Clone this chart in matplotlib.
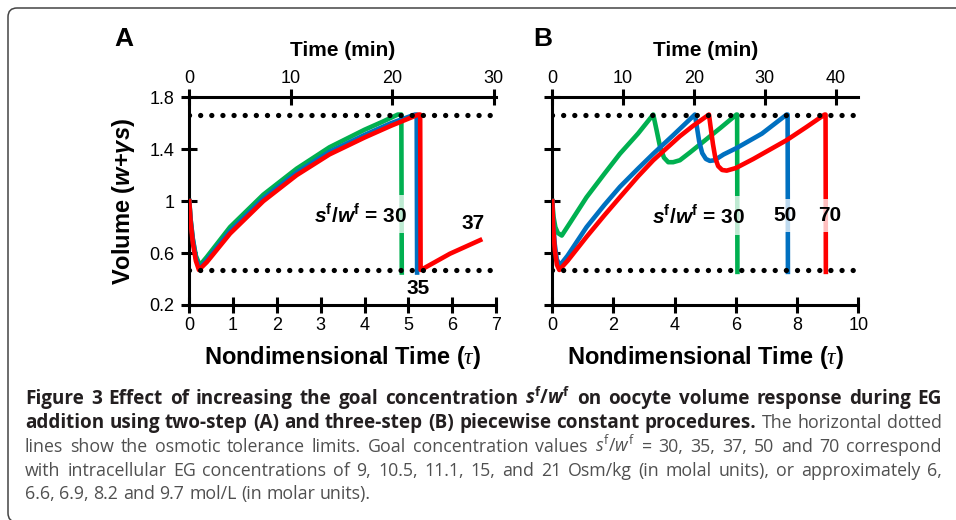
import matplotlib.pyplot as plt
from matplotlib.patches import FancyBboxPatch
from matplotlib.transforms import IdentityTransform

plt.rcParams['font.family'] = ['Liberation Sans', 'DejaVu Sans']
plt.rcParams['mathtext.fontset'] = 'custom'
plt.rcParams['mathtext.rm'] = 'Open Sans'
plt.rcParams['mathtext.it'] = 'Open Sans:italic'
plt.rcParams['mathtext.bf'] = 'Open Sans:bold'
plt.rcParams['mathtext.bfit'] = 'Open Sans:bold:italic'
plt.rcParams['mathtext.sf'] = 'Liberation Sans:bold:italic'
plt.rcParams['mathtext.tt'] = 'Liberation Sans:bold'
plt.rcParams['mathtext.cal'] = 'Liberation Serif:italic'

# ---- data (tau = nondimensional time, vol = w + gamma*s)
min_per_tau = 4.32
limits = [0.47, 1.667]

# panel A, two-step procedures
a30_tau = [0, 0.03, 0.08, 0.15, 0.24, 0.4, 0.93, 1.69, 2.45, 3.2, 4.0, 4.4, 4.76, 4.84, 4.85]
a30_vol = [1.0, 0.86, 0.71, 0.58, 0.505, 0.57, 0.80, 1.05, 1.25, 1.415, 1.55, 1.61, 1.667, 1.667, 0.45]
a35_tau = [0, 0.03, 0.08, 0.15, 0.23, 0.4, 0.93, 1.69, 2.45, 3.2, 4.0, 4.6, 5.15, 5.19, 5.20]
a35_vol = [1.0, 0.86, 0.71, 0.56, 0.48, 0.545, 0.77, 1.02, 1.22, 1.38, 1.51, 1.60, 1.667, 1.667, 0.45]
a37_tau = [0, 0.03, 0.08, 0.15, 0.22, 0.4, 0.93, 1.69, 2.45, 3.2, 4.0, 4.6, 5.23, 5.27, 5.28, 5.34, 5.95, 6.64]
a37_vol = [1.0, 0.84, 0.68, 0.54, 0.47, 0.53, 0.75, 1.0, 1.20, 1.36, 1.49, 1.58, 1.667, 1.667, 0.47, 0.48, 0.595, 0.70]

# panel B, three-step procedures
b30_tau = [0, 0.04, 0.1, 0.18, 0.31, 0.6, 1.12, 1.7, 2.21, 2.8, 3.30, 3.36, 3.41, 3.52, 3.65,
           3.79, 3.95, 4.17, 4.5, 5.0, 5.5, 6.02, 6.04, 6.05]
b30_vol = [1.0, 0.88, 0.80, 0.755, 0.735, 0.84, 1.03, 1.21, 1.365, 1.52, 1.667, 1.60, 1.545, 1.42, 1.335,
           1.30, 1.30, 1.315, 1.375, 1.47, 1.565, 1.667, 1.667, 0.455]
b50_tau = [0, 0.03, 0.08, 0.15, 0.25, 0.5, 1.12, 1.7, 2.21, 2.8, 3.30, 3.96, 4.66, 4.72, 4.80,
           4.90, 5.02, 5.15, 5.3, 5.6, 6.03, 6.85, 7.66, 7.69, 7.70]
b50_vol = [1.0, 0.83, 0.67, 0.55, 0.505, 0.58, 0.80, 0.97, 1.11, 1.25, 1.365, 1.51, 1.667, 1.58, 1.46,
           1.37, 1.325, 1.31, 1.315, 1.36, 1.41, 1.52, 1.667, 1.667, 0.455]
b70_tau = [0, 0.03, 0.08, 0.15, 0.23, 0.5, 1.12, 1.7, 2.21, 2.8, 3.30, 3.7, 4.17, 4.6, 5.12, 5.18,
           5.25, 5.33, 5.42, 5.55, 5.7, 6.0, 6.57, 7.66, 8.3, 8.9, 8.93, 8.94]
b70_vol = [1.0, 0.80, 0.63, 0.51, 0.47, 0.54, 0.725, 0.89, 1.03, 1.19, 1.315, 1.40, 1.50, 1.58, 1.667, 1.56,
           1.44, 1.33, 1.27, 1.24, 1.235, 1.255, 1.325, 1.47, 1.57, 1.667, 1.667, 0.455]

green = '#00b050'
blue = '#0070c0'
red = '#ff0000'

ratio = r'$\mathsf{s}^{\mathtt{f}}\mathtt{/}\mathsf{w}^{\mathtt{f}}$ = 30'
# (text, tau, vol, white box behind it)
a_labels = [(ratio, 3.91, 0.90, True), ('35', 5.22, 0.33, False), ('37', 6.47, 0.83, False)]
b_labels = [(ratio, 4.77, 0.89, True), ('50', 7.6, 0.89, True), ('70', 9.07, 0.89, True)]

# caption: each printed line as (text, bold) pieces, last line is not justified
caption = [
    [(r'Figure 3 Effect of increasing the goal concentration $\mathbfit{s}^{\mathbf{f}}\mathbf{/}\mathbfit{w}^{\mathbf{f}}$ on oocyte volume response during EG', True)],
    [('addition using two-step (A) and three-step (B) piecewise constant procedures.', True),
     ('The horizontal dotted', False)],
    [(r'lines show the osmotic tolerance limits. Goal concentration values $\mathit{s}^{\mathrm{f}}\mathrm{/}\mathit{w}^{\mathrm{f}}$ = 30, 35, 37, 50 and 70 correspond', False)],
    [('with intracellular EG concentrations of 9, 10.5, 11.1, 15, and 21 Osm/kg (in molal units), or approximately 6,', False)],
    [('6.6, 6.9, 8.2 and 9.7 mol/L (in molar units).', False)],
]
line_y = [404, 428, 452, 476, 499]   # baselines, pixels from top


def to_min(t):
    return t * min_per_tau


def to_tau(m):
    return m / min_per_tau


def draw_panel(ax, curves, labels, xmax, xticks, mticks, show_ylabels):
    for tau, vol, c in curves:
        ax.plot(tau, vol, color=c, lw=3.3, solid_joinstyle='round', zorder=3)
    for lim in limits:
        ax.axhline(lim, color='black', lw=3.8, ls=(0, (0.01, 2.1)),
                   dash_capstyle='round', zorder=4)
    for txt, x, y, boxed in labels:
        box = dict(boxstyle='square,pad=0.35', fc='white', ec='none', alpha=0.75) if boxed else None
        ax.text(x, y, txt, ha='center', va='center', fontsize=15, fontweight='bold', zorder=6, bbox=box)
    ax.set_xlim(0, xmax)
    ax.set_ylim(0.2, 1.8)
    ax.set_xticks(xticks)
    ax.set_yticks([0.2, 0.6, 1.0, 1.4, 1.8])
    ax.set_yticklabels(['0.2', '0.6', '1', '1.4', '1.8'])
    ax.spines['right'].set_visible(False)
    ax.spines['top'].set_visible(False)
    for s in ['left', 'bottom']:
        ax.spines[s].set_linewidth(2.2)
    ax.tick_params(direction='inout', length=11, width=2.2, labelsize=13, pad=3)
    ax.tick_params(axis='y', pad=5, labelleft=show_ylabels)
    ax.set_xlabel(r'Nondimensional Time ($\mathcal{\tau}$)', fontsize=17, fontweight='bold', labelpad=7)

    sec = ax.secondary_xaxis('top', functions=(to_min, to_tau))
    sec.set_xticks(mticks)
    sec.spines['top'].set_linewidth(2.2)
    sec.tick_params(direction='inout', length=11, width=2.2, labelsize=13, pad=2)
    sec.set_xlabel('Time (min)', fontsize=15, fontweight='bold', labelpad=10)


def caption_line(fig, pieces, y, x0=25, x1=942, justify=True):
    # draw word by word, spreading the gaps so the line fills x0..x1 (pixels)
    r = fig.canvas.get_renderer()
    items = []
    for txt, bold in pieces:
        for word in txt.split(' '):
            t = fig.text(0, 1 - y / 520, word, family='Open Sans',
                         fontsize=13.6 if bold else 12.8,
                         fontweight='bold' if bold else 'normal',
                         color='#231f20' if bold else '#505050', ha='left', va='baseline')
            items.append(t)
    widths = [t.get_window_extent(r).width for t in items]
    if justify:
        gap = (x1 - x0 - sum(widths)) / (len(items) - 1)
    else:
        gap = 12.8 * 100 / 72 * 0.26
    x = x0
    for t, w in zip(items, widths):
        t.set_x(x / 956)
        x += w + gap


fig = plt.figure(figsize=(9.56, 5.2), dpi=100)

axA = fig.add_axes([0.198, 0.4135, 0.3208, 0.3994])
draw_panel(axA, [(a30_tau, a30_vol, green), (a35_tau, a35_vol, blue), (a37_tau, a37_vol, red)],
           a_labels, 7, range(0, 8), [0, 10, 20, 30], True)
axA.set_ylabel(r'Volume ($\mathsf{w}$+$\mathsf{\gamma s}$)', fontsize=17, fontweight='bold', labelpad=9)

axB = fig.add_axes([0.5777, 0.4135, 0.3201, 0.3994])
draw_panel(axB, [(b30_tau, b30_vol, green), (b50_tau, b50_vol, blue), (b70_tau, b70_vol, red)],
           b_labels, 10, range(0, 11, 2), [0, 10, 20, 30, 40], False)

fig.text(124 / 956, 1 - 39 / 520, 'A', fontsize=19, fontweight='bold', ha='center', va='center')
fig.text(543 / 956, 1 - 39 / 520, 'B', fontsize=19, fontweight='bold', ha='center', va='center')

for i, pieces in enumerate(caption):
    caption_line(fig, pieces, line_y[i], justify=i < len(caption) - 1)

# rounded frame around the figure
frame = FancyBboxPatch((8, -2), 990, 514, boxstyle='round,pad=0,rounding_size=9',
                       transform=IdentityTransform(), fc='none', ec='#444444', lw=1.1)
fig.patches.append(frame)

fig.savefig('out.png', dpi=100)
